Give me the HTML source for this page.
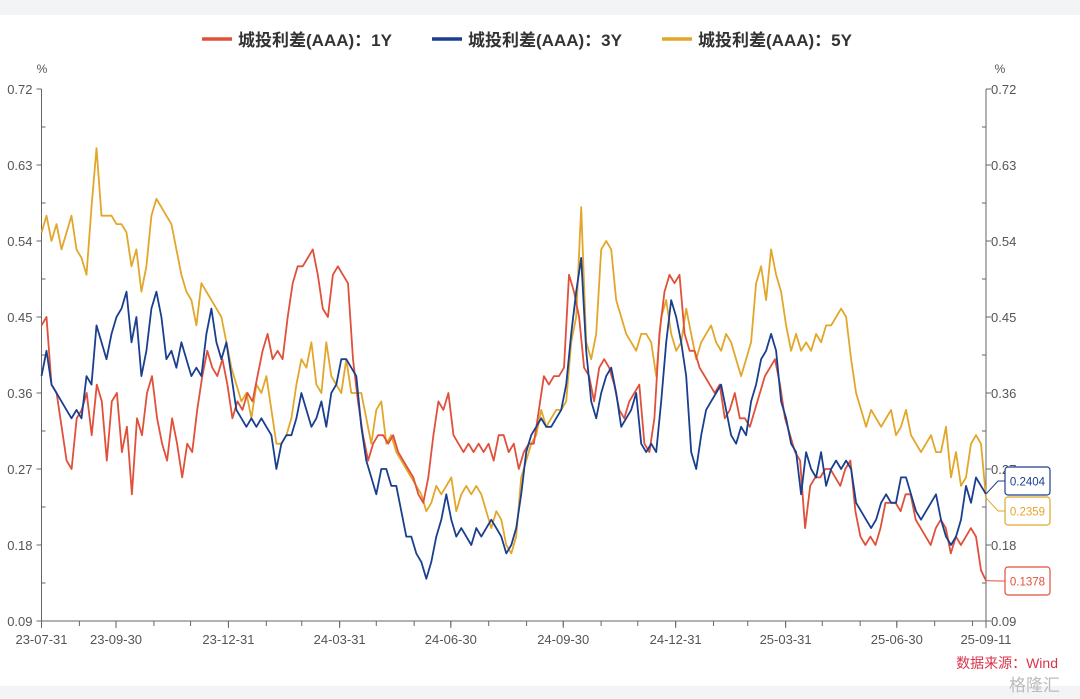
<!DOCTYPE html>
<html><head><meta charset="utf-8">
<style>
html,body{margin:0;padding:0;background:#fff;}
body{width:1080px;height:699px;overflow:hidden;position:relative;font-family:"Liberation Sans","Noto Sans CJK SC",sans-serif;}
</style></head>
<body>
<div style="position:absolute;left:0;top:0;width:1080px;height:15px;background:#f3f4f6;"></div>
<div style="position:absolute;left:0;top:686px;width:1080px;height:13px;background:#f3f4f6;"></div>
<svg id="chart" width="1080" height="699" style="position:absolute;left:0;top:0;font-family:'Liberation Sans','Noto Sans CJK SC',sans-serif;"></svg>
<script>
const seriesNames=["城投利差(AAA)：1Y","城投利差(AAA)：3Y","城投利差(AAA)：5Y"];
const seriesColors=["#e0503a","#1a3f8f","#e2a72a"];
const startDate="2023-07-31", endDate="2025-09-11";
const yTicks=[0.09,0.18,0.27,0.36,0.45,0.54,0.63,0.72];
const xTickLabels=["23-07-31","23-09-30","23-12-31","24-03-31","24-06-30","24-09-30","24-12-31","25-03-31","25-06-30","25-09-11"];
const endLabels=["0.1378","0.2404","0.2359"];
const s1Y=[0.44,0.45,0.37,0.36,0.32,0.28,0.27,0.33,0.34,0.36,0.31,0.37,0.35,0.28,0.35,0.36,0.29,0.32,0.24,0.33,0.31,0.36,0.38,0.33,0.30,0.28,0.33,0.30,0.26,0.30,0.29,0.34,0.38,0.41,0.39,0.38,0.40,0.37,0.33,0.35,0.34,0.36,0.35,0.38,0.41,0.43,0.40,0.41,0.40,0.45,0.49,0.51,0.51,0.52,0.53,0.50,0.46,0.45,0.50,0.51,0.50,0.49,0.40,0.35,0.31,0.28,0.30,0.31,0.31,0.30,0.31,0.29,0.28,0.27,0.26,0.24,0.23,0.26,0.31,0.35,0.34,0.36,0.31,0.30,0.29,0.30,0.29,0.30,0.29,0.30,0.28,0.31,0.31,0.29,0.30,0.27,0.29,0.30,0.30,0.34,0.38,0.37,0.38,0.38,0.39,0.50,0.48,0.45,0.39,0.38,0.35,0.39,0.40,0.39,0.37,0.34,0.33,0.35,0.36,0.37,0.30,0.29,0.33,0.43,0.48,0.50,0.49,0.50,0.43,0.41,0.41,0.39,0.38,0.37,0.36,0.37,0.33,0.34,0.36,0.33,0.33,0.32,0.34,0.36,0.38,0.39,0.40,0.37,0.33,0.31,0.29,0.28,0.20,0.25,0.26,0.26,0.27,0.27,0.26,0.25,0.27,0.28,0.22,0.19,0.18,0.19,0.18,0.20,0.23,0.23,0.23,0.22,0.24,0.24,0.21,0.20,0.19,0.18,0.20,0.21,0.20,0.17,0.19,0.18,0.19,0.20,0.19,0.15,0.1378];
const s3Y=[0.38,0.41,0.37,0.36,0.35,0.34,0.33,0.34,0.33,0.38,0.37,0.44,0.42,0.40,0.43,0.45,0.46,0.48,0.42,0.45,0.38,0.41,0.46,0.48,0.45,0.40,0.41,0.39,0.42,0.40,0.38,0.39,0.38,0.43,0.46,0.42,0.40,0.42,0.38,0.34,0.33,0.32,0.33,0.32,0.33,0.32,0.31,0.27,0.30,0.31,0.31,0.33,0.36,0.34,0.32,0.33,0.35,0.32,0.36,0.37,0.40,0.40,0.39,0.38,0.32,0.28,0.26,0.24,0.27,0.27,0.25,0.25,0.22,0.19,0.19,0.17,0.16,0.14,0.16,0.19,0.21,0.24,0.21,0.19,0.20,0.19,0.18,0.20,0.19,0.20,0.21,0.20,0.19,0.17,0.18,0.20,0.24,0.29,0.31,0.32,0.33,0.32,0.32,0.33,0.34,0.37,0.43,0.48,0.52,0.41,0.35,0.33,0.36,0.38,0.39,0.36,0.32,0.33,0.34,0.36,0.30,0.29,0.30,0.29,0.35,0.42,0.47,0.45,0.42,0.38,0.29,0.27,0.31,0.34,0.35,0.36,0.37,0.34,0.31,0.30,0.32,0.31,0.35,0.37,0.40,0.41,0.43,0.41,0.35,0.33,0.30,0.29,0.24,0.29,0.27,0.26,0.29,0.25,0.27,0.28,0.27,0.28,0.27,0.23,0.22,0.21,0.20,0.21,0.23,0.24,0.23,0.23,0.26,0.26,0.24,0.22,0.21,0.22,0.23,0.24,0.21,0.19,0.18,0.19,0.21,0.25,0.23,0.26,0.25,0.2404];
const s5Y=[0.55,0.57,0.54,0.56,0.53,0.55,0.57,0.53,0.52,0.50,0.58,0.65,0.57,0.57,0.57,0.56,0.56,0.55,0.51,0.53,0.48,0.51,0.57,0.59,0.58,0.57,0.56,0.53,0.50,0.48,0.47,0.44,0.49,0.48,0.47,0.46,0.45,0.42,0.39,0.37,0.35,0.36,0.33,0.37,0.36,0.38,0.34,0.30,0.30,0.31,0.33,0.37,0.40,0.39,0.42,0.37,0.36,0.42,0.38,0.37,0.36,0.40,0.36,0.36,0.36,0.33,0.30,0.34,0.35,0.30,0.31,0.29,0.28,0.27,0.26,0.25,0.24,0.22,0.23,0.25,0.24,0.25,0.26,0.22,0.24,0.25,0.24,0.25,0.24,0.22,0.20,0.22,0.21,0.18,0.17,0.19,0.26,0.28,0.30,0.31,0.34,0.32,0.33,0.34,0.34,0.35,0.42,0.45,0.58,0.42,0.40,0.43,0.53,0.54,0.53,0.47,0.45,0.43,0.42,0.41,0.43,0.43,0.42,0.38,0.45,0.47,0.43,0.41,0.42,0.46,0.43,0.40,0.42,0.43,0.44,0.42,0.41,0.43,0.42,0.40,0.38,0.40,0.42,0.49,0.51,0.47,0.53,0.50,0.48,0.44,0.41,0.43,0.41,0.42,0.41,0.43,0.42,0.44,0.44,0.45,0.46,0.45,0.40,0.36,0.34,0.32,0.34,0.33,0.32,0.33,0.34,0.31,0.32,0.34,0.31,0.30,0.29,0.30,0.31,0.29,0.29,0.32,0.26,0.29,0.25,0.26,0.30,0.31,0.30,0.2359];

const NS="http://www.w3.org/2000/svg";
const svg=document.getElementById("chart");
function el(tag,attrs,parent){const e=document.createElementNS(NS,tag);for(const k in attrs)e.setAttribute(k,attrs[k]);(parent||svg).appendChild(e);return e;}
const L=41.5,R=986,T=89,B=621,yMin=0.09,yMax=0.72;
const t0=Date.parse(startDate),t1=Date.parse(endDate);
function xDate(s){const d=Date.parse("20"+s.length===8?s:s);return L+(Date.parse(s)-t0)/(t1-t0)*(R-L);}
function xOf(ts){return L+(ts-t0)/(t1-t0)*(R-L);}
function yOf(v){return B-(v-yMin)/(yMax-yMin)*(B-T);}

// axes
let a=el("line",{x1:L,y1:T,x2:L,y2:B,stroke:"#666","stroke-width":1});

a=el("line",{x1:R,y1:T,x2:R,y2:B,stroke:"#666","stroke-width":1});

a=el("line",{x1:L,y1:B,x2:R,y2:B,stroke:"#666","stroke-width":1});

for(const side of ["left","right"]){
  const u=el("text",{x:side==="left"?42:1000,y:73,"font-size":12,fill:"#555","text-anchor":"middle"});
  u.textContent="%";
  
}
for(let i=0;i<yTicks.length;i++){
  const v=yTicks[i],y=yOf(v);
  el("line",{x1:L-5,y1:y,x2:L,y2:y,stroke:"#666"});
  el("line",{x1:R,y1:y,x2:R+5,y2:y,stroke:"#666"});
  if(i<yTicks.length-1){const ym=yOf(v+0.045);el("line",{x1:L,y1:ym,x2:L+4,y2:ym,stroke:"#666"});el("line",{x1:R-4,y1:ym,x2:R,y2:ym,stroke:"#666"});}
  const tl=el("text",{x:L-9,y:y+5,"font-size":13,fill:"#555","text-anchor":"end"});tl.textContent=v.toFixed(2);
  
  const tr=el("text",{x:R+5,y:y+5,"font-size":13,fill:"#555"});tr.textContent=v.toFixed(2);
  
}
// monthly minor ticks
for(let y=2023,m=7;;){const d=Date.UTC(y,m+1,0);if(d>t1)break;const x=xOf(d);el("line",{x1:x,y1:B,x2:x,y2:B+5,stroke:"#666"});m++;if(m>11){m=0;y++;}}
el("line",{x1:R,y1:B,x2:R,y2:B+6,stroke:"#666"});
for(const lab of xTickLabels){
  const ts=Date.parse("20"+lab);const x=xOf(ts);
  el("line",{x1:x,y1:B,x2:x,y2:B+7,stroke:"#666"});
  const t=el("text",{x:x,y:B+23,"font-size":13,fill:"#555","text-anchor":"middle"});t.textContent=lab;
  
}
// series
const allSeries=[s1Y,s3Y,s5Y];
const drawOrder=[2,0,1];
for(const k of drawOrder){
  const s=allSeries[k];
  const pts=s.map((v,i)=>(L+i/(s.length-1)*(R-L)).toFixed(1)+","+yOf(v).toFixed(1)).join(" ");
  const p=el("polyline",{points:pts,fill:"none",stroke:seriesColors[k],"stroke-width":1.8,"stroke-linejoin":"round"});
  
}
// end labels
const boxY=[581,481,511];
for(let k=0;k<3;k++){
  const s=allSeries[k],yv=yOf(s[s.length-1]),by=boxY[k];
  el("polyline",{points:`${R},${yv} ${R+12},${by} ${1005},${by}`,fill:"none",stroke:seriesColors[k],"stroke-width":1});
  const r=el("rect",{x:1005,y:by-14,width:45,height:28,rx:3,fill:"#fff",stroke:seriesColors[k],"stroke-width":1.2});
  
  const t=el("text",{x:1027.5,y:by+4.5,"font-size":11.5,fill:seriesColors[k],"text-anchor":"middle"});t.textContent=endLabels[k];
  
}
// legend
const legX=[202,432,662];
for(let k=0;k<3;k++){
  const g=el("g",{});
  
  el("line",{x1:legX[k],y1:39,x2:legX[k]+30,y2:39,stroke:seriesColors[k],"stroke-width":3.5},g);
  const t=el("text",{x:legX[k]+36,y:46,"font-size":17,"font-weight":"bold",fill:"#333"},g);t.textContent=seriesNames[k];
}
const src=el("text",{x:1058,y:668,"font-size":14,fill:"#d9344a","text-anchor":"end"});src.textContent="数据来源：Wind";

const wm=el("text",{x:1060,y:691,"font-size":17,fill:"#bbb","text-anchor":"end"});wm.textContent="格隆汇";

</script>
</body></html>
